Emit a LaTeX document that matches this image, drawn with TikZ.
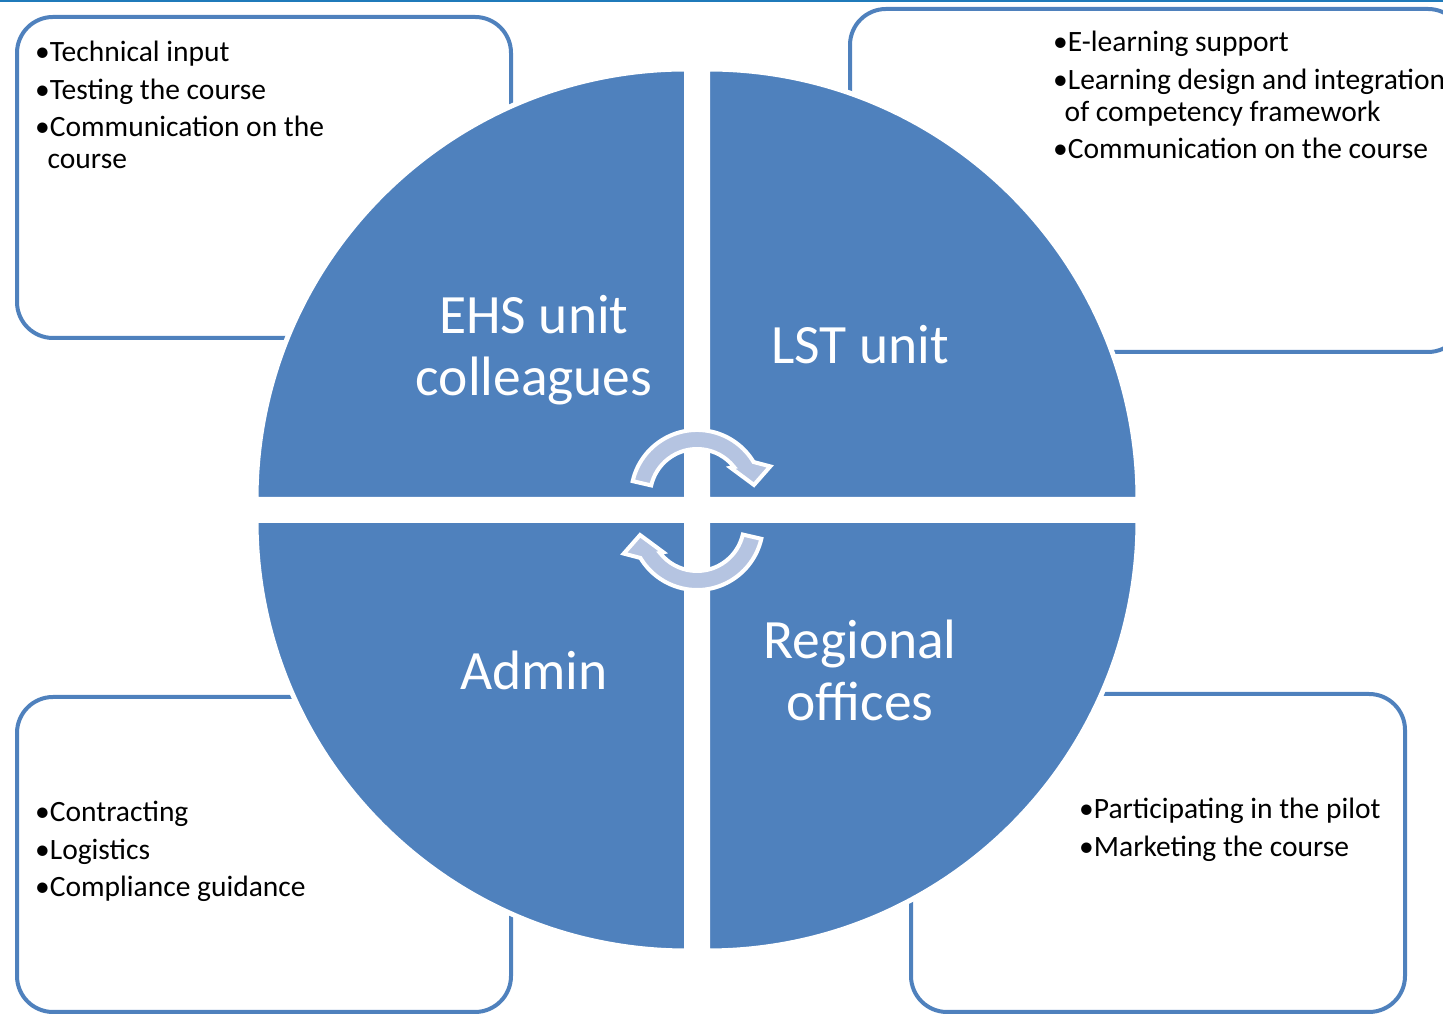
\documentclass[tikz,border=0pt]{standalone}
\usepackage{fontspec}
\setmainfont{Carlito}
\definecolor{accent}{RGB}{79,129,189}
\definecolor{topline}{RGB}{31,122,186}
\definecolor{arrowfill}{RGB}{181,196,225}
\tikzset{
  boxst/.style={draw=accent, line width=4, rounded corners=36},
  quarter/.style={fill=accent, draw=white, line width=5},
  cyc/.style={fill=arrowfill, draw=white, line width=4, line join=miter, miter limit=4},
  itemtext/.style={anchor=base west, inner sep=0, font=\fontsize{29.5}{32}\selectfont},
  bigtext/.style={anchor=base, inner sep=0, text=white, font=\fontsize{55.5}{62}\selectfont},
}
\begin{document}
\begin{tikzpicture}[x=1pt,y=1pt]
\useasboundingbox (0,0) rectangle (1443,1016);
\clip (0,0) rectangle (1443,1016);
\fill[topline] (0,1013.5) rectangle (1443,1016);
% boxes
\draw[boxst] (17,999) rectangle (511,678);
\draw[boxst] (850,1007) rectangle (1464,664);
\draw[boxst] (17,319) rectangle (511,4);
\draw[boxst] (911,322) rectangle (1405,4);
% quarters
\path[quarter] (686.5,516.5) -- ++(-430.5,0) arc[start angle=180,end angle=90,radius=430.5] -- cycle;
\path[quarter] (707.5,516.5) -- ++(0,430.5) arc[start angle=90,end angle=0,radius=430.5] -- cycle;
\path[quarter] (686.5,495.5) -- ++(0,-430.5) arc[start angle=270,end angle=180,radius=430.5] -- cycle;
\path[quarter] (707.5,495.5) -- ++(430.5,0) arc[start angle=0,end angle=-90,radius=430.5] -- cycle;
% cycle arrows
\begin{scope}[shift={(697,520)}]
\path[cyc] (167:66) arc[start angle=167,end angle=31,radius=66] -- (22:79) -- (11:58) -- (40:44) -- (38:47) arc[start angle=38,end angle=167,radius=47] -- cycle;
\end{scope}
\begin{scope}[shift={(697,492)},rotate=180]
\path[cyc] (167:66) arc[start angle=167,end angle=31,radius=66] -- (22:79) -- (11:58) -- (40:44) -- (38:47) arc[start angle=38,end angle=167,radius=47] -- cycle;
\end{scope}
% box texts
\node[itemtext] (ehsitems) at (35,954) {\begin{tabular}[t]{@{}l@{}}•Technical input\\[5.5pt] •Testing the course\\[5.5pt] •Communication on the\\ \hspace*{12.5pt}course\end{tabular}};
\node[itemtext] (lstitems) at (1053,964) {\begin{tabular}[t]{@{}l@{}}•E-learning support\\[5.5pt] •Learning design and integration\\ \hspace*{11.5pt}of competency framework\\[5.5pt] •Communication on the course\end{tabular}};
\node[itemtext] (adminitems) at (35,194) {\begin{tabular}[t]{@{}l@{}}•Contracting\\[5.5pt] •Logistics\\[5.5pt] •Compliance guidance\end{tabular}};
\node[itemtext] (regitems) at (1079,197) {\begin{tabular}[t]{@{}l@{}}•Participating in the pilot\\[5.5pt] •Marketing the course\end{tabular}};
% quarter labels
\node[bigtext] (ehs) at (534,682) {\begin{tabular}[t]{@{}c@{}}EHS unit\\colleagues\end{tabular}};
\node[bigtext] (lst) at (860,652) {LST unit};
\node[bigtext] (admin) at (534,326) {Admin};
\node[bigtext] (reg) at (860,357) {\begin{tabular}[t]{@{}c@{}}Regional\\offices\end{tabular}};
\end{tikzpicture}
\end{document}
